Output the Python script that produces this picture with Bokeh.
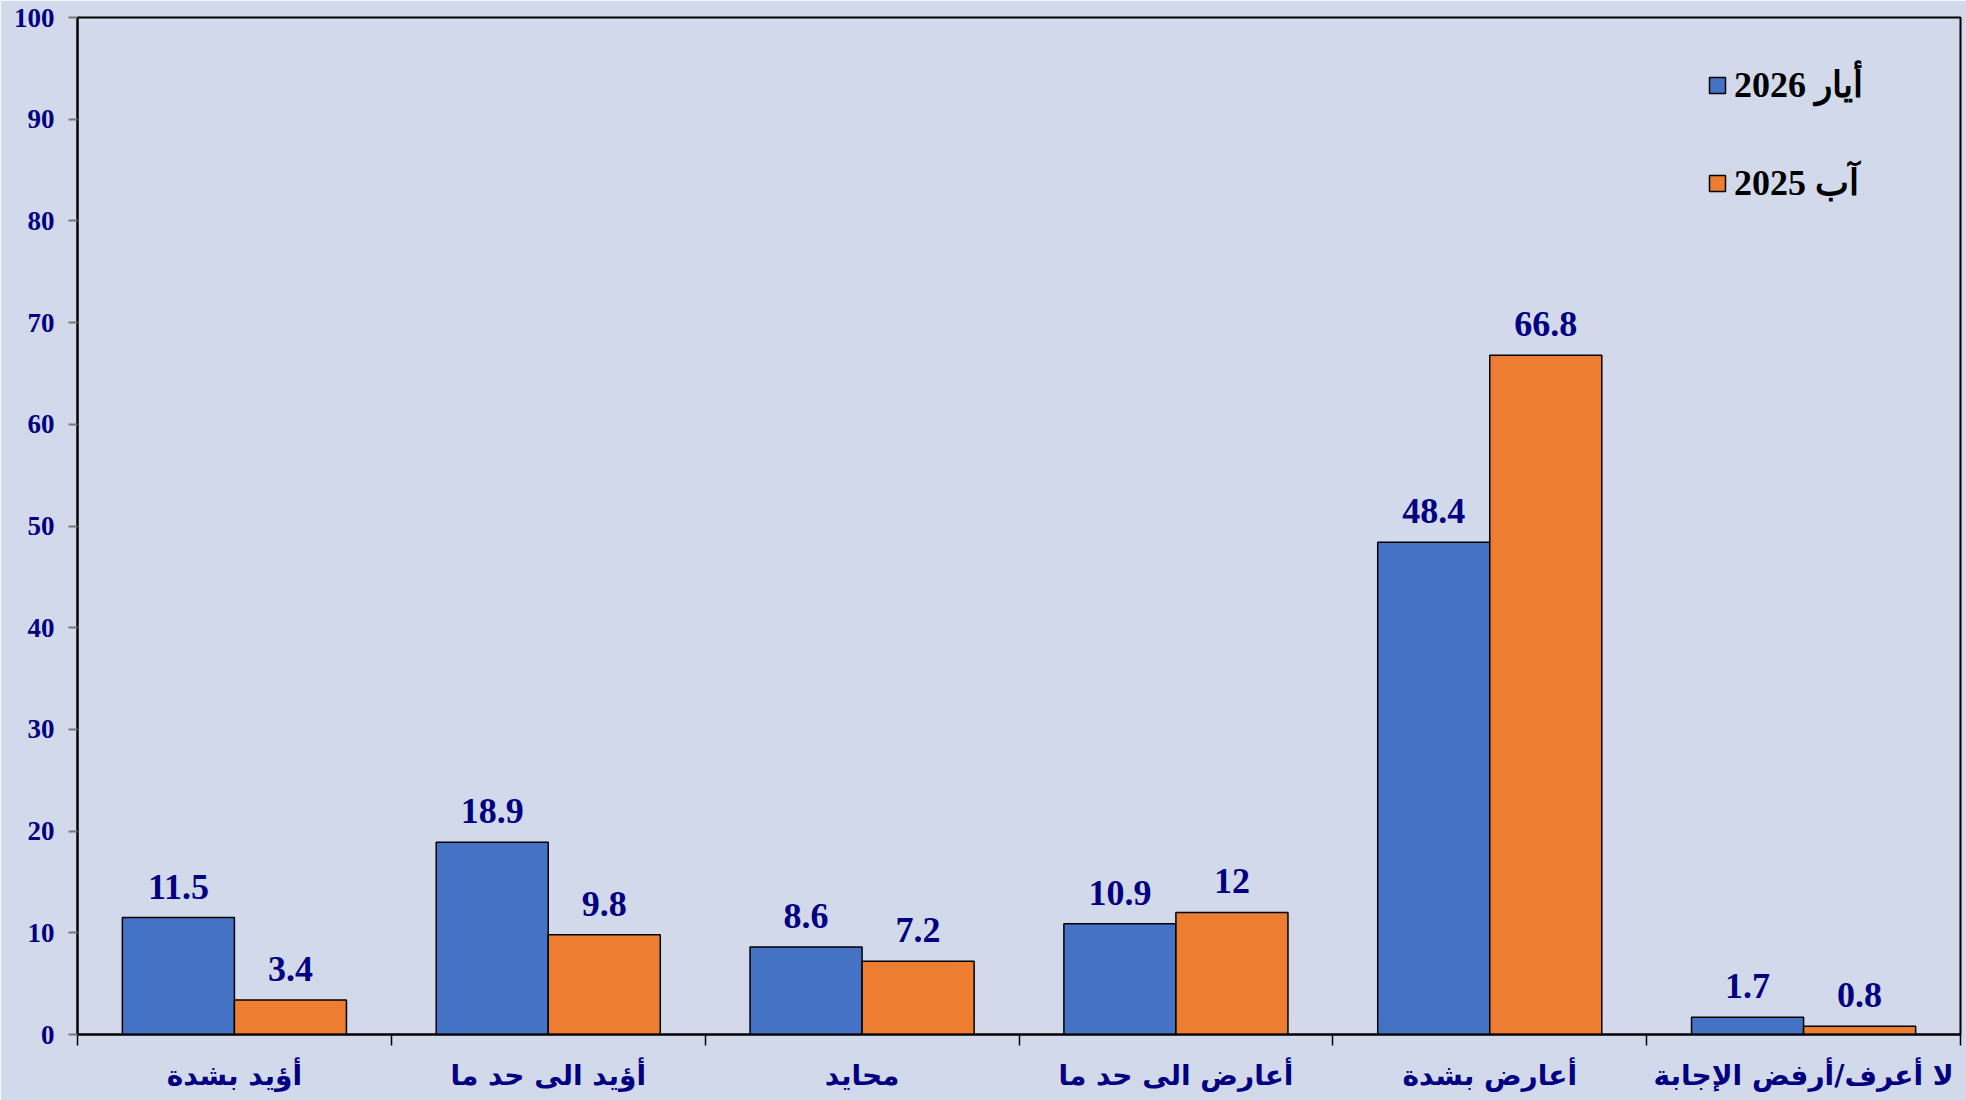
from bokeh.plotting import figure
from bokeh.models import ColumnDataSource, FixedTicker, SingleIntervalTicker, Range1d, Legend, LegendItem
from bokeh.transform import dodge
from bokeh.core.properties import value
from bokeh.embed import file_html
from bokeh.resources import INLINE

categories = ["أؤيد بشدة", "أؤيد الى حد ما", "محايد", "أعارض الى حد ما", "أعارض بشدة", "لا أعرف/أرفض الإجابة"]
may_2026 = [11.5, 18.9, 8.6, 10.9, 48.4, 1.7]
aug_2025 = [3.4, 9.8, 7.2, 12, 66.8, 0.8]
series_names = ["أيار 2026", "آب 2025"]

BG = "#D2D9EB"
NAVY = "#000080"
BLUE = "#4472C4"
ORANGE = "#ED7D31"

xs = [i + 0.5 for i in range(len(categories))]
src = ColumnDataSource(dict(
    x=xs, a=may_2026, b=aug_2025,
    a_lbl=[f"{v:g}" for v in may_2026],
    b_lbl=[f"{v:g}" for v in aug_2025],
))

p = figure(width=1966, height=1100, output_backend="svg", toolbar_location=None,
           x_range=Range1d(0, len(categories)), y_range=Range1d(0, 100),
           min_border_left=77, min_border_top=17, min_border_right=6, min_border_bottom=66,
           background_fill_color=BG, border_fill_color=BG)
p.outline_line_color = "black"
p.outline_line_width = 2
p.xgrid.visible = False
p.ygrid.visible = False

W = 0.357
off = 0.1785
r1 = p.vbar(x=dodge("x", -off), top="a", width=W, source=src, fill_color=BLUE,
            line_color="black", line_width=1.5)
r2 = p.vbar(x=dodge("x", off), top="b", width=W, source=src, fill_color=ORANGE,
            line_color="black", line_width=1.5)

lbl_font = value("Liberation Serif")
p.text(x=dodge("x", -off), y="a", text="a_lbl", source=src, text_font=lbl_font,
       text_font_style="bold", text_font_size="36px", text_color=NAVY,
       text_align="center", text_baseline="alphabetic", y_offset=-31)
p.text(x=dodge("x", off), y="b", text="b_lbl", source=src, text_font=lbl_font,
       text_font_style="bold", text_font_size="36px", text_color=NAVY,
       text_align="center", text_baseline="alphabetic", y_offset=-31)

# y axis
ya = p.yaxis[0]
ya.ticker = SingleIntervalTicker(interval=10, num_minor_ticks=0)
ya.axis_line_color = "black"
ya.axis_line_width = 2
ya.major_tick_in = 0
ya.major_tick_out = 9
ya.major_tick_line_color = "#777777"
ya.major_tick_line_width = 2
ya.minor_tick_line_color = None
ya.major_label_text_font = "Liberation Serif"
ya.major_label_text_font_style = "bold"
ya.major_label_text_font_size = "27px"
ya.major_label_text_color = NAVY
ya.major_label_standoff = 14

# x axis
xa = p.xaxis[0]
xa.ticker = FixedTicker(ticks=xs, minor_ticks=list(range(len(categories) + 1)))
xa.major_label_overrides = {x: c for x, c in zip(xs, categories)}
xa.axis_line_color = "black"
xa.axis_line_width = 2
xa.major_tick_line_color = None
xa.major_tick_in = 0
xa.major_tick_out = 0
xa.minor_tick_in = 0
xa.minor_tick_out = 11
xa.minor_tick_line_color = "black"
xa.minor_tick_line_width = 1.5
xa.major_label_text_font = "DejaVu Sans"
xa.major_label_text_font_style = "bold"
xa.major_label_text_font_size = "28px"
xa.major_label_text_color = NAVY
xa.major_label_standoff = 13

legend = Legend(items=[LegendItem(label=series_names[0], renderers=[r1]),
                       LegendItem(label=series_names[1], renderers=[r2])],
                location=(1630, 830), orientation="vertical")
legend.background_fill_alpha = 0
legend.border_line_alpha = 0
legend.padding = 0
legend.margin = 0
legend.spacing = 56
legend.glyph_width = 20
legend.glyph_height = 20
legend.label_standoff = 7
legend.label_text_font = "Liberation Serif"
legend.label_text_font_style = "bold"
legend.label_text_font_size = "36px"
legend.label_text_color = "black"
p.add_layout(legend)

open("out.html", "w").write(file_html(p, INLINE))
